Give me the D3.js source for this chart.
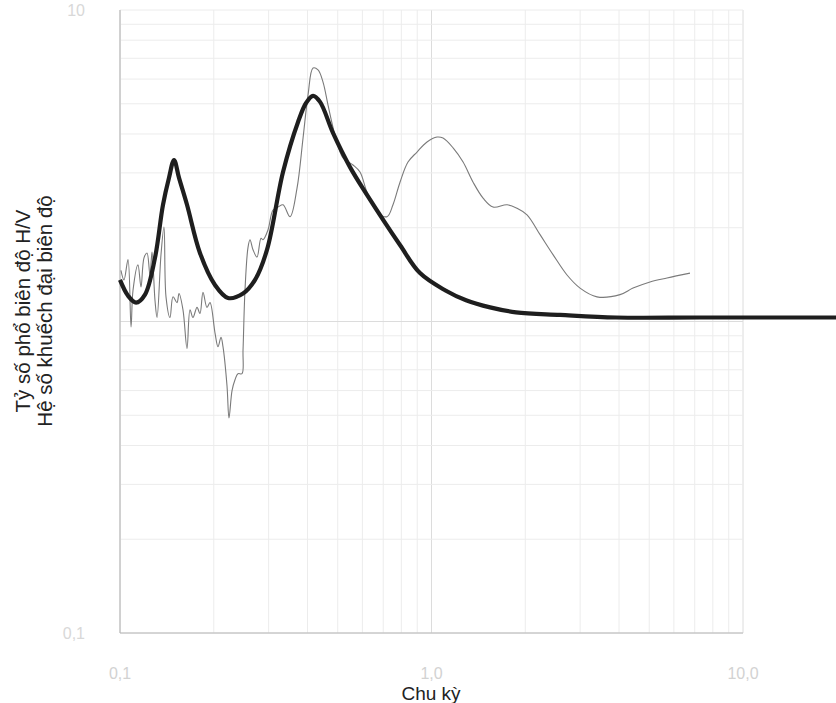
<!DOCTYPE html>
<html>
<head>
<meta charset="utf-8">
<script src="https://cdn.jsdelivr.net/npm/d3@7"></script>
<style>
body { margin: 0; background: #fff; }
text { font-family: "Liberation Sans", Arial, sans-serif; }
</style>
</head>
<body>
<div id="c"></div>
<script>
// chu ky (s) / ty so H/V - thin measured curve
var hv_period = [0.1007, 0.1030, 0.1061, 0.1085, 0.1101, 0.1142, 0.1168, 0.1194, 0.1221, 0.1248,
	0.1267, 0.1295, 0.1315, 0.1354, 0.1384, 0.1405, 0.1447, 0.1480, 0.1524, 0.1547,
	0.1593, 0.1641, 0.1678, 0.1715, 0.1767, 0.1806, 0.1847, 0.1902, 0.1945, 0.2018,
	0.2063, 0.2110, 0.2141, 0.2206, 0.2238, 0.2289, 0.2340, 0.2392, 0.2464, 0.2483,
	0.2519, 0.2576, 0.2614, 0.2673, 0.2753, 0.2836, 0.2878, 0.2987, 0.3099, 0.3216,
	0.3337, 0.3515, 0.3701, 0.3869, 0.4015, 0.4166, 0.4322, 0.4485, 0.4654, 0.4900,
	0.5198, 0.5598, 0.5895, 0.6208, 0.6684, 0.7197, 0.7523, 0.7923, 0.8405, 0.8984,
	0.9672, 1.042, 1.089, 1.173, 1.263, 1.360, 1.464, 1.576, 1.748, 1.882,
	2.026, 2.231, 2.455, 2.723, 2.998, 3.398, 4.029, 4.436, 5.028, 5.702, 6.758];
var hv_ratio = [1.46, 1.36, 1.58, 0.96, 1.26, 1.52, 1.29, 1.60, 1.66, 1.41,
	1.67, 1.17, 1.03, 1.64, 2.01, 1.20, 1.03, 1.20, 1.15, 1.23,
	1.09, 0.82, 1.09, 1.03, 1.11, 1.06, 1.24, 1.11, 1.15, 0.92,
	0.83, 0.89, 0.83, 0.62, 0.49, 0.60, 0.65, 0.68, 0.68, 0.81,
	1.26, 1.73, 1.83, 1.70, 1.61, 1.85, 1.83, 1.97, 2.28, 2.33,
	2.37, 2.17, 2.68, 3.88, 5.34, 6.51, 6.42, 5.87, 4.95, 3.97,
	3.35, 3.18, 3.02, 2.60, 2.25, 2.17, 2.37, 2.80, 3.25, 3.50,
	3.77, 3.91, 3.88, 3.61, 3.25, 2.80, 2.49, 2.33, 2.37, 2.31,
	2.20, 1.90, 1.64, 1.41, 1.28, 1.20, 1.22, 1.28, 1.34, 1.38, 1.43];

// he so khuech dai - thick computed curve
var amp_period = [0.1, 0.1061, 0.1126, 0.1203, 0.1295, 0.1374, 0.1436, 0.1491, 0.1547, 0.1641,
	0.1806, 0.2018, 0.2222, 0.2483, 0.2713, 0.2965, 0.3337, 0.3729, 0.3956, 0.4166,
	0.4387, 0.4828, 0.5475, 0.6208, 0.7923, 0.9185, 1.105, 1.291, 1.542, 1.868,
	2.586, 3.912, 7.277, 19.9];
var amp_value = [1.36, 1.21, 1.15, 1.22, 1.60, 2.37, 2.89, 3.30, 2.89, 2.37,
	1.66, 1.31, 1.19, 1.23, 1.36, 1.70, 3.02, 4.37, 5.03, 5.30,
	5.07, 4.03, 3.13, 2.55, 1.76, 1.43, 1.26, 1.17, 1.11, 1.07,
	1.05, 1.03, 1.03, 1.03];

var x_ticks = [0.1, 1, 10];
var x_tick_labels = ["0,1", "1,0", "10,0"];
var y_ticks = [0.1, 10];
var y_tick_labels = ["0,1", "10"];

var width = 836;
var height = 703;

var svg = d3.select("#c").append("svg")
	.attr("width", width)
	.attr("height", height);

var x_scale = d3.scaleLog()
	.domain([0.1, 10])
	.range([120, 743]);

var y_scale = d3.scaleLog()
	.domain([0.1, 10])
	.range([633, 10]);

// faint grid (the scan shows it very washed out)
svg.append("g")
	.selectAll("line")
	.data(x_scale.ticks())
	.enter()
	.append("line")
	.attr("x1", function(d) { return x_scale(d) })
	.attr("x2", function(d) { return x_scale(d) })
	.attr("y1", y_scale(10))
	.attr("y2", y_scale(0.1))
	.attr("stroke", function(d) { return x_ticks.indexOf(d) >= 0 ? "#dcdcdc" : "#ececec" })
	.attr("stroke-width", 1);

svg.append("g")
	.selectAll("line")
	.data(y_scale.ticks())
	.enter()
	.append("line")
	.attr("x1", x_scale(0.1))
	.attr("x2", x_scale(10))
	.attr("y1", function(d) { return y_scale(d) })
	.attr("y2", function(d) { return y_scale(d) })
	.attr("stroke", function(d) { return d == 1 ? "#dcdcdc" : "#ececec" })
	.attr("stroke-width", 1);

// axis lines
svg.append("line")
	.attr("x1", x_scale(0.1)).attr("x2", x_scale(0.1))
	.attr("y1", y_scale(10)).attr("y2", y_scale(0.1))
	.attr("stroke", "#b4b4b4");

svg.append("line")
	.attr("x1", x_scale(0.1)).attr("x2", x_scale(10))
	.attr("y1", y_scale(0.1)).attr("y2", y_scale(0.1))
	.attr("stroke", "#b4b4b4");

// tick labels, barely visible in the scan
svg.append("g")
	.selectAll("text")
	.data(x_ticks)
	.enter()
	.append("text")
	.attr("x", function(d) { return x_scale(d) })
	.attr("y", 679)
	.attr("text-anchor", "middle")
	.attr("font-size", 16)
	.attr("fill", "#d2d2d2")
	.text(function(d, i) { return x_tick_labels[i] });

svg.append("g")
	.selectAll("text")
	.data(y_ticks)
	.enter()
	.append("text")
	.attr("x", 85)
	.attr("y", function(d) { return y_scale(d) + 6 })
	.attr("text-anchor", "end")
	.attr("font-size", 16)
	.attr("fill", "#d8d8d8")
	.text(function(d, i) { return y_tick_labels[i] });

// curves
var hv_data = hv_period.map(function(p, i) { return { t: p, v: hv_ratio[i] } });
var amp_data = amp_period.map(function(p, i) { return { t: p, v: amp_value[i] } });

var line = d3.line()
	.x(function(d) { return x_scale(d.t) })
	.y(function(d) { return y_scale(d.v) })
	.curve(d3.curveCatmullRom.alpha(0.5));

svg.append("path")
	.datum(hv_data)
	.attr("d", line)
	.attr("fill", "none")
	.attr("stroke", "#7a7a7a")
	.attr("stroke-width", 1.1);

svg.append("path")
	.datum(amp_data)
	.attr("d", line)
	.attr("fill", "none")
	.attr("stroke", "#1e1e1e")
	.attr("stroke-width", 4.2);

// axis titles
svg.append("text")
	.attr("x", 431)
	.attr("y", 700)
	.attr("text-anchor", "middle")
	.attr("font-size", 19)
	.attr("fill", "#222")
	.text("Chu kỳ");

var y_title = svg.append("g")
	.attr("transform", "translate(30,311) rotate(-90)");

y_title.append("text")
	.attr("text-anchor", "middle")
	.attr("font-size", 20.5)
	.attr("fill", "#222")
	.text("Tỷ số phổ biên độ H/V");

y_title.append("text")
	.attr("y", 22)
	.attr("text-anchor", "middle")
	.attr("font-size", 20.5)
	.attr("fill", "#222")
	.text("Hệ số khuếch đại biên độ");
</script>
</body>
</html>
